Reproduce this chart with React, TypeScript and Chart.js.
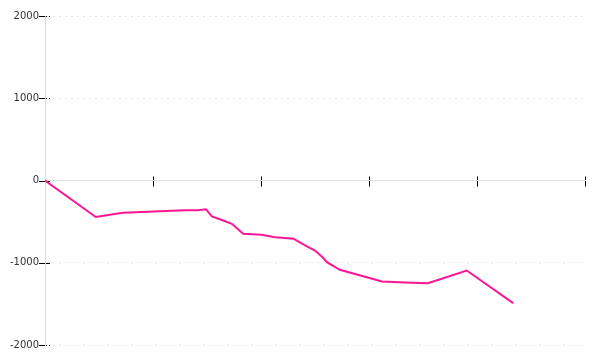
import React, { useEffect, useRef } from "react";
import { Chart, registerables } from "chart.js";

Chart.register(...registerables);

const xValues = [0, 9.4, 14.4, 21.3, 25.9, 28.3, 29.8, 30.9, 33.0, 34.6, 36.7, 40.1, 42.6, 46.0, 48.5, 50.0, 51.5, 52.2, 54.6, 62.4, 66.7, 70.9, 78.1, 86.7];
const yValues = [0, -444, -392, -375, -361, -361, -349, -437, -486, -526, -648, -660, -689, -708, -802, -851, -939, -993, -1085, -1227, -1239, -1248, -1094, -1491];
const yTicks = [-2000, -1000, 0, 1000, 2000];
const xTicks = [0, 20, 40, 60, 80, 100];

const tickMarks = {
  id: "tickMarks",
  beforeDraw(chart: any) {
    const ctx = chart.ctx;
    const xs = chart.scales.x;
    const ys = chart.scales.y;
    const x0 = chart.chartArea.left;
    const y0 = ys.getPixelForValue(0);
    ctx.save();
    ctx.strokeStyle = "#000";
    ctx.lineWidth = 1;
    ctx.beginPath();
    for (const v of yTicks) {
      const py = Math.round(ys.getPixelForValue(v)) + 0.5;
      ctx.moveTo(x0 - 6, py);
      ctx.lineTo(x0 + 5, py);
    }
    for (const v of xTicks) {
      const px = Math.round(xs.getPixelForValue(v)) + 0.5;
      ctx.moveTo(px, y0 - 4);
      ctx.lineTo(px, y0 + 6);
    }
    ctx.stroke();
    ctx.restore();
  },
};

export default function App() {
  const ref = useRef<HTMLCanvasElement>(null);
  useEffect(() => {
    const chart = new Chart(ref.current!, {
      type: "line",
      data: {
        datasets: [
          {
            data: xValues.map((x, i) => ({ x, y: yValues[i] })),
            borderColor: "#ff1493",
            backgroundColor: "#ff1493",
            borderWidth: 2,
            pointRadius: 0,
            tension: 0,
          },
        ],
      },
      options: {
        animation: false,
        responsive: false,
        maintainAspectRatio: false,
        layout: { padding: { top: 16, right: 15, bottom: 15, left: 0 } },
        plugins: { legend: { display: false }, tooltip: { enabled: false } },
        scales: {
          x: {
            type: "linear",
            position: { y: 0 } as any,
            min: 0,
            max: 100,
            ticks: { display: false, stepSize: 20 },
            grid: { display: false },
            border: { display: true, color: "#dddddd", width: 1 },
          },
          y: {
            min: -2000,
            max: 2000,
            afterFit: (s: any) => {
              s.width = 45;
            },
            ticks: {
              stepSize: 1000,
              padding: 6,
              color: "#333",
              font: { family: "'DejaVu Sans', sans-serif", size: 10 },
              callback: (v: any) => String(v),
            },
            grid: {
              drawTicks: false,
              color: (c: any) => (c.tick && c.tick.value === 0 ? "rgba(0,0,0,0)" : "#e4e4e4"),
            },
            border: { display: true, color: "#dddddd", width: 1, dash: [2, 4], dashOffset: -7 },
          },
        },
      },
      plugins: [tickMarks],
    });
    return () => chart.destroy();
  }, []);
  return (
    <div style={{ position: "fixed", left: 0, top: 0, width: 600, height: 360, background: "#fff" }}>
      <canvas ref={ref} width={600} height={360} style={{ display: "block" }} />
    </div>
  );
}
